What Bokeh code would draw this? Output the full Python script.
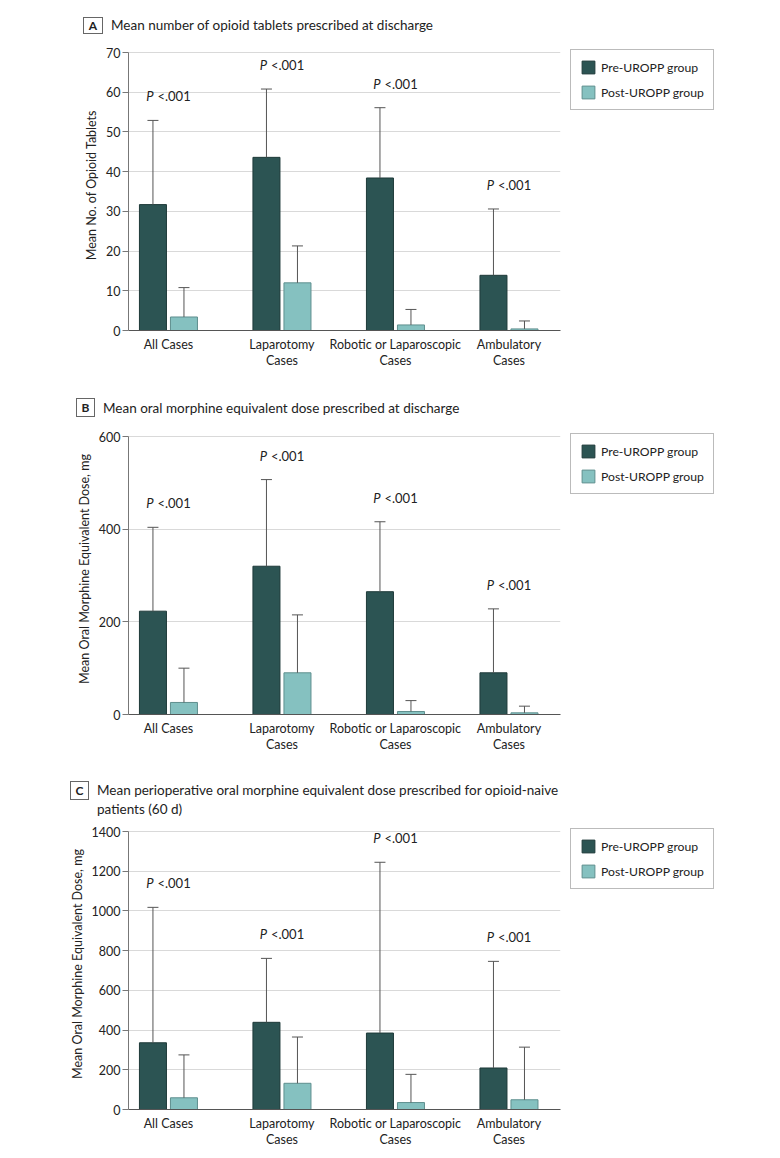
from bokeh.plotting import figure
from bokeh.layouts import column
from bokeh.models import (ColumnDataSource, FixedTicker, Whisker, TeeHead, Legend,
                          LegendItem, Range1d, Div)
from bokeh.transform import dodge
from bokeh.core.properties import value
from bokeh.embed import file_html
from bokeh.resources import INLINE

# ---------------- data ----------------
categories = ["All Cases", "Laparotomy Cases", "Robotic or Laparoscopic Cases", "Ambulatory Cases"]
tick_labels = ["All Cases", "Laparotomy\nCases", "Robotic or Laparoscopic\nCases", "Ambulatory\nCases"]
series_names = ["Pre-UROPP group", "Post-UROPP group"]
p_value_text = "<.001"

# Panel A: mean number of opioid tablets
tablets_pre_mean = [31.7, 43.6, 38.4, 13.9]
tablets_pre_sd = [21.2, 17.2, 17.7, 16.7]
tablets_post_mean = [3.4, 12.0, 1.4, 0.4]
tablets_post_sd = [7.4, 9.3, 3.9, 2.0]
tablets_ticks = [0, 10, 20, 30, 40, 50, 60, 70]

# Panel B: mean OME at discharge, mg
ome_pre_mean = [223, 320, 265, 90]
ome_pre_sd = [181, 187, 151, 138]
ome_post_mean = [26, 90, 6.5, 3.6]
ome_post_sd = [74, 125, 23.5, 14.4]
ome_ticks = [0, 200, 400, 600]

# Panel C: mean perioperative OME (60 d), mg
periop_pre_mean = [336, 439, 385, 209]
periop_pre_sd = [682, 322, 860, 537]
periop_post_mean = [59, 132, 35, 49]
periop_post_sd = [216, 233, 142, 265]
periop_ticks = [0, 200, 400, 600, 800, 1000, 1200, 1400]

# ---------------- style ----------------
FONT = "Lato"
PRE_FILL, PRE_LINE = "#2C5453", "#1E3A39"
POST_FILL, POST_LINE = "#85C1C0", "#5F8F8E"
ERR_COLOR = "#555555"
GRID_COLOR = "#D9D9D9"
TEXT_COLOR = "#222222"
BAR_W = 0.238
OFF = 0.1366
PLOT_H = 278      # height of the tick span (0 .. top tick), px
HEADROOM = 13     # extra px above the top tick (room for the legend)


def title_div(letter, lines, height, box_left, box_top, box_w, box_h, text_left, centers):
    html = (f'<div style="position:relative;width:780px;height:{height}px;'
            f'font-family:Lato,sans-serif;color:{TEXT_COLOR};">')
    html += (f'<div style="position:absolute;left:{box_left}px;top:{box_top}px;width:{box_w}px;'
             f'height:{box_h}px;border:1px solid #666;box-sizing:border-box;font-weight:bold;'
             f'font-size:12px;line-height:{box_h - 2}px;text-align:center;">{letter}</div>')
    for line, c in zip(lines, centers):
        html += (f'<div style="position:absolute;left:{text_left}px;top:{c - 10}px;height:20px;'
                 f'line-height:20px;font-size:13.5px;white-space:nowrap;">{line}</div>')
    html += '</div>'
    return Div(text=html, width=780, height=height, margin=(0, 0, 0, 0))


def make_panel(ylabel, pre_mean, pre_sd, post_mean, post_sd, ticks, bottom):
    x = list(range(len(categories)))
    pre_top = [m + s for m, s in zip(pre_mean, pre_sd)]
    post_top = [m + s for m, s in zip(post_mean, post_sd)]
    label_y = [max(a, b) for a, b in zip(pre_top, post_top)]
    src = ColumnDataSource(dict(x=x, cat=categories, pre=pre_mean, post=post_mean,
                                pre_top=pre_top, post_top=post_top, ly=label_y))

    y_end = ticks[-1] + (ticks[-1] - ticks[0]) * HEADROOM / PLOT_H
    p = figure(frame_width=432, frame_height=PLOT_H + HEADROOM, output_backend="svg",
               toolbar_location=None,
               x_range=Range1d(-0.352, 3.454), y_range=Range1d(ticks[0], y_end),
               min_border_left=128, min_border_right=0, min_border_top=0,
               min_border_bottom=bottom, outline_line_color=None, background_fill_color="white",
               margin=(0, 0, 0, 0))

    p.xgrid.visible = False
    p.ygrid.grid_line_color = GRID_COLOR
    p.ygrid.grid_line_width = 1
    p.ygrid.ticker = FixedTicker(ticks=ticks)

    p.yaxis.ticker = FixedTicker(ticks=ticks)
    p.yaxis.bounds = (ticks[0], ticks[-1])
    p.yaxis.minor_tick_line_color = None
    p.yaxis.major_tick_in = 0
    p.yaxis.major_tick_out = 6
    p.yaxis.axis_line_color = "#777777"
    p.yaxis.major_tick_line_color = "#777777"
    p.yaxis.major_label_text_font = FONT
    p.yaxis.major_label_text_font_size = "12.5px"
    p.yaxis.major_label_text_color = TEXT_COLOR
    p.yaxis.major_label_standoff = 2
    p.yaxis.axis_label = ylabel
    p.yaxis.axis_label_text_font = FONT
    p.yaxis.axis_label_text_font_style = "normal"
    p.yaxis.axis_label_text_font_size = "12.5px"
    p.yaxis.axis_label_text_color = TEXT_COLOR
    p.yaxis.axis_label_standoff = 4

    p.xaxis.ticker = FixedTicker(ticks=x)
    p.xaxis.major_label_overrides = {i: t for i, t in zip(x, tick_labels)}
    p.xaxis.major_tick_line_color = None
    p.xaxis.minor_tick_line_color = None
    p.xaxis.axis_line_color = "#555555"
    p.xaxis.major_label_text_font = FONT
    p.xaxis.major_label_text_font_size = "12.5px"
    p.xaxis.major_label_text_color = TEXT_COLOR
    p.xaxis.major_label_text_line_height = 1.12
    p.xaxis.major_label_standoff = 0

    r_pre = p.vbar(x=dodge("x", -OFF), top="pre", width=BAR_W, bottom=0, source=src,
                   fill_color=PRE_FILL, line_color=PRE_LINE, line_width=1)
    r_post = p.vbar(x=dodge("x", OFF), top="post", width=BAR_W, bottom=0, source=src,
                    fill_color=POST_FILL, line_color=POST_LINE, line_width=1)

    for off, lo, hi in [(-OFF, "pre", "pre_top"), (OFF, "post", "post_top")]:
        w = Whisker(source=src, base=dodge("x", off), lower=lo, upper=hi, dimension="height",
                    line_color=ERR_COLOR, line_width=1,
                    upper_head=TeeHead(size=11, line_color=ERR_COLOR, line_width=1),
                    lower_head=None, level="glyph")
        p.add_layout(w)

    p.text(x="x", y="ly", text=value("P"), source=src, x_offset=-15, y_offset=-24,
           text_align="right", text_baseline="middle", text_font=value(FONT),
           text_font_style="italic", text_font_size="13px", text_color=TEXT_COLOR)
    p.text(x="x", y="ly", text=value(p_value_text), source=src, x_offset=-11, y_offset=-24,
           text_align="left", text_baseline="middle", text_font=value(FONT),
           text_font_size="13px", text_color=TEXT_COLOR)

    legend = Legend(items=[LegendItem(label=series_names[0], renderers=[r_pre]),
                           LegendItem(label=series_names[1], renderers=[r_post])],
                    location="top_left", border_line_color="#777777", border_line_width=1,
                    padding=9, spacing=9, glyph_width=16, glyph_height=16, label_standoff=5,
                    label_text_font=FONT, label_text_font_size="12.2px",
                    label_text_color=TEXT_COLOR, margin=10, background_fill_color="white")
    p.add_layout(legend, "right")
    return p


div_a = title_div("A", ["Mean number of opioid tablets prescribed at discharge"], 39,
                  83, 17, 20, 17, 111, [25])
pa = make_panel("Mean No. of Opioid Tablets",
                tablets_pre_mean, tablets_pre_sd, tablets_post_mean, tablets_post_sd,
                tablets_ticks, bottom=50)
div_b = title_div("B", ["Mean oral morphine equivalent dose prescribed at discharge"], 43,
                  76, 18, 19, 19, 103, [28])
pb = make_panel("Mean Oral Morphine Equivalent Dose, mg",
                ome_pre_mean, ome_pre_sd, ome_post_mean, ome_post_sd,
                ome_ticks, bottom=50)
div_c = title_div("C", ["Mean perioperative oral morphine equivalent dose prescribed for opioid-naive",
                        "patients (60 d)"], 54, 70, 17, 19, 19, 97, [26, 45])
pc = make_panel("Mean Oral Morphine Equivalent Dose, mg",
                periop_pre_mean, periop_pre_sd, periop_post_mean, periop_post_sd,
                periop_ticks, bottom=45)

layout = column(div_a, pa, div_b, pb, div_c, pc, spacing=0)
open("out.html", "w").write(file_html(layout, INLINE))
